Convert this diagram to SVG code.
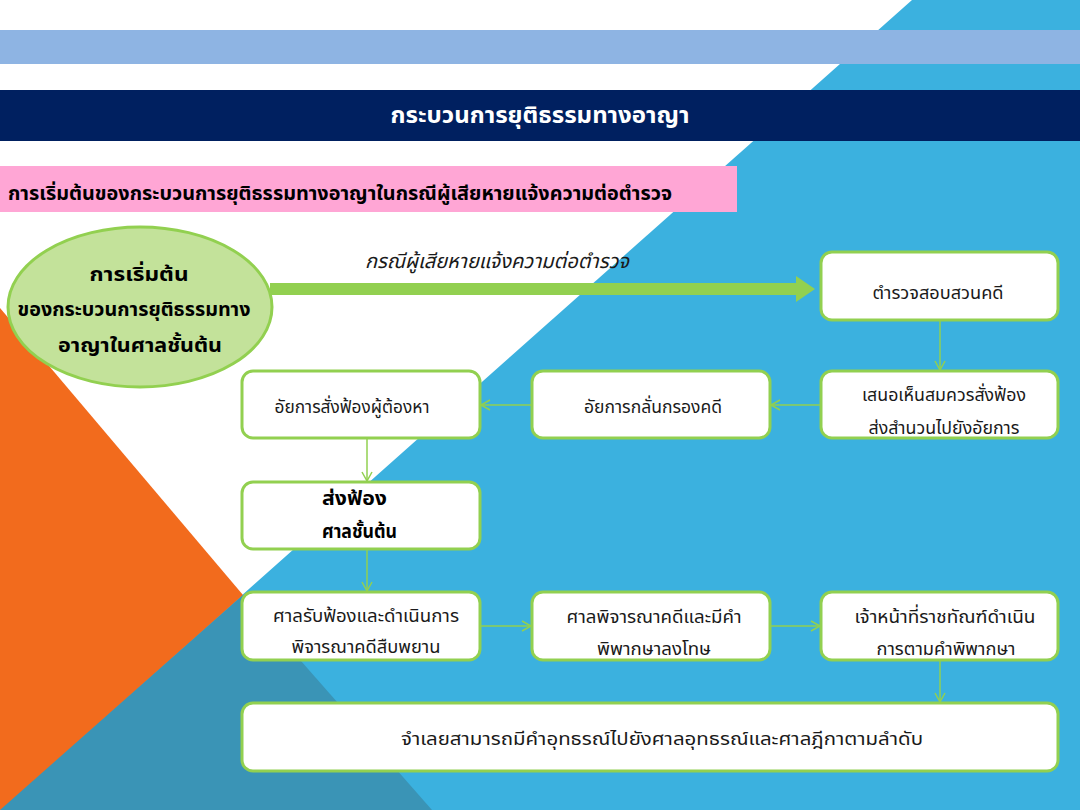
<svg xmlns="http://www.w3.org/2000/svg" width="1080" height="810" viewBox="0 0 1080 810">
<style>
text{font-family:"Noto Sans Thai","Noto Sans","DejaVu Sans",sans-serif;fill:#1a1a1a}
.box{fill:#ffffff;stroke:#92d050;stroke-width:3}
.t{font-size:18.5px;text-anchor:middle}
.b{font-size:18px;font-weight:bold;fill:#000}
.conn{stroke:#92d050;stroke-width:1.5;fill:none}
</style>
<defs>
<marker id="arr" markerWidth="12" markerHeight="12" refX="10" refY="6" orient="auto" markerUnits="userSpaceOnUse">
<path d="M1,1 L10,6 L1,11" fill="none" stroke="#92d050" stroke-width="1.5"/>
</marker>
</defs>
<g id="background">
<rect width="1080" height="810" fill="#ffffff"/>
<polygon points="912,0 1080,0 1080,810 0,810" fill="#3bb1df"/>
<polygon points="0,308 243,595 0,811" fill="#f26b1d"/>
<polygon points="243,595 432,810 0,810" fill="#3a94b6"/>
<rect x="0" y="30" width="1080" height="34" fill="#8eb4e3"/>
<rect x="0" y="90" width="1080" height="51" fill="#002060"/>
<rect x="0" y="166" width="737" height="46" fill="#ffa6d5"/>
</g>
<g id="title">
<text x="540" y="123" text-anchor="middle" style="font-size:23px;font-weight:bold;fill:#ffffff" textLength="299" lengthAdjust="spacingAndGlyphs">กระบวนการยุติธรรมทางอาญา</text>
</g>
<g id="subtitle">
<text x="8" y="200" class="b" style="font-size:19px" textLength="664" lengthAdjust="spacingAndGlyphs">การเริ่มต้นของกระบวนการยุติธรรมทางอาญาในกรณีผู้เสียหายแจ้งความต่อตำรวจ</text>
</g>
<g id="connectors">
<line x1="270" y1="289" x2="798" y2="289" stroke="#92d050" stroke-width="12"/>
<polygon points="796,276 815,289 796,302" fill="#92d050"/>
<text x="497" y="268" text-anchor="middle" style="font-size:20px;font-style:italic" textLength="264" lengthAdjust="spacingAndGlyphs">กรณีผู้เสียหายแจ้งความต่อตำรวจ</text>
<line class="conn" x1="940" y1="320" x2="940" y2="370" marker-end="url(#arr)"/>
<line class="conn" x1="821" y1="405" x2="771" y2="405" marker-end="url(#arr)"/>
<line class="conn" x1="532" y1="405" x2="481" y2="405" marker-end="url(#arr)"/>
<line class="conn" x1="367" y1="438" x2="367" y2="481" marker-end="url(#arr)"/>
<line class="conn" x1="367" y1="549" x2="367" y2="591" marker-end="url(#arr)"/>
<line class="conn" x1="480" y1="626" x2="531" y2="626" marker-end="url(#arr)"/>
<line class="conn" x1="770" y1="626" x2="820" y2="626" marker-end="url(#arr)"/>
<line class="conn" x1="940" y1="660" x2="940" y2="702" marker-end="url(#arr)"/>
</g>
<g id="start">
<ellipse cx="140" cy="307" rx="132" ry="80" fill="#c3e29a" stroke="#92d050" stroke-width="3"/>
<text x="139" y="281" class="b" style="font-size:20px" text-anchor="middle" textLength="99" lengthAdjust="spacingAndGlyphs">การเริ่มต้น</text>
<text x="134" y="316" class="b" style="font-size:20px" text-anchor="middle" textLength="233" lengthAdjust="spacingAndGlyphs">ของกระบวนการยุติธรรมทาง</text>
<text x="140" y="352" class="b" style="font-size:20px" text-anchor="middle" textLength="164" lengthAdjust="spacingAndGlyphs">อาญาในศาลชั้นต้น</text>
</g>
<g id="n1">
<rect class="box" x="821" y="252" width="237" height="68" rx="11"/>
<text class="t" x="938" y="299" textLength="131" lengthAdjust="spacingAndGlyphs">ตำรวจสอบสวนคดี</text>
</g>
<g id="n2">
<rect class="box" x="821" y="371" width="237" height="67" rx="11"/>
<text class="t" x="944" y="401" textLength="164" lengthAdjust="spacingAndGlyphs">เสนอเห็นสมควรสั่งฟ้อง</text>
<text class="t" x="944" y="434" textLength="151" lengthAdjust="spacingAndGlyphs">ส่งสำนวนไปยังอัยการ</text>
</g>
<g id="n3">
<rect class="box" x="532" y="371" width="238" height="67" rx="11"/>
<text class="t" x="653" y="413" textLength="138" lengthAdjust="spacingAndGlyphs">อัยการกลั่นกรองคดี</text>
</g>
<g id="n4">
<rect class="box" x="242" y="371" width="238" height="67" rx="11"/>
<text class="t" x="352" y="413" textLength="155" lengthAdjust="spacingAndGlyphs">อัยการสั่งฟ้องผู้ต้องหา</text>
</g>
<g id="n5">
<rect class="box" x="242" y="482" width="238" height="67" rx="11"/>
<text class="b" x="322" y="505" style="font-size:18.5px" textLength="65" lengthAdjust="spacingAndGlyphs">ส่งฟ้อง</text>
<text class="b" x="322" y="538" style="font-size:18.5px" textLength="75" lengthAdjust="spacingAndGlyphs">ศาลชั้นต้น</text>
</g>
<g id="n6">
<rect class="box" x="242" y="592" width="238" height="68" rx="11"/>
<text class="t" x="366" y="622" textLength="186" lengthAdjust="spacingAndGlyphs">ศาลรับฟ้องและดำเนินการ</text>
<text class="t" x="366" y="653" textLength="149" lengthAdjust="spacingAndGlyphs">พิจารณาคดีสืบพยาน</text>
</g>
<g id="n7">
<rect class="box" x="532" y="592" width="238" height="68" rx="11"/>
<text class="t" x="654" y="623" textLength="175" lengthAdjust="spacingAndGlyphs">ศาลพิจารณาคดีและมีคำ</text>
<text class="t" x="654" y="655" textLength="114" lengthAdjust="spacingAndGlyphs">พิพากษาลงโทษ</text>
</g>
<g id="n8">
<rect class="box" x="821" y="592" width="237" height="68" rx="11"/>
<text class="t" x="945" y="623" textLength="181" lengthAdjust="spacingAndGlyphs">เจ้าหน้าที่ราชทัณฑ์ดำเนิน</text>
<text class="t" x="946" y="655" textLength="139" lengthAdjust="spacingAndGlyphs">การตามคำพิพากษา</text>
</g>
<g id="n9">
<rect class="box" x="242" y="703" width="816" height="68" rx="11"/>
<text class="t" x="662" y="745" textLength="522" lengthAdjust="spacingAndGlyphs">จำเลยสามารถมีคำอุทธรณ์ไปยังศาลอุทธรณ์และศาลฎีกาตามลำดับ</text>
</g>
</svg>
